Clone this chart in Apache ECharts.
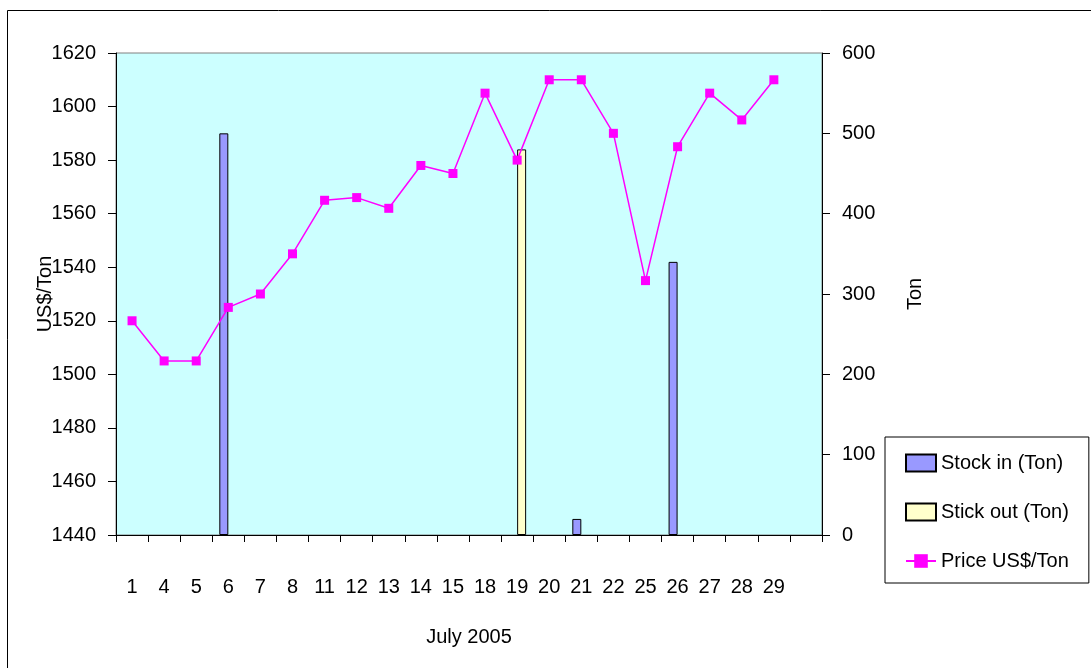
<!DOCTYPE html>
<html>
<head>
<meta charset="utf-8">
<script src="https://cdn.jsdelivr.net/npm/echarts@6/dist/echarts.min.js"></script>
<style>
  html, body { margin: 0; padding: 0; background: #fff; }
  #chart { width: 1091px; height: 668px; }
</style>
</head>
<body>
<div id="chart"></div>
<script>
const categories = ['1','4','5','6','7','8','11','12','13','14','15','18','19','20','21','22','25','26','27','28','29'];
const price = [1520,1505,1505,1525,1530,1545,1565,1566,1562,1578,1575,1605,1580,1610,1610,1590,1535,1585,1605,1595,1610];
const stockIn = [null,null,null,500,null,null,null,null,null,null,null,null,null,null,20,null,null,340,null,null,null];
const stockOut = [null,null,null,null,null,null,null,null,null,null,null,null,480,null,null,null,null,null,null,null,null];
const leftTicks = { min: 1440, max: 1620, interval: 20 };
const rightTicks = { min: 0, max: 600, interval: 100 };

const FONT = "'Liberation Sans', Arial, sans-serif";
const axisCats = categories.concat(['']);

const chart = echarts.init(document.getElementById('chart'), null, { renderer: 'canvas' });
chart.setOption({
  animation: false,
  backgroundColor: '#ffffff',
  textStyle: { fontFamily: FONT, color: '#000' },
  grid: {
    left: 116, right: 269, top: 53, bottom: 133,
    show: true, backgroundColor: '#CCFFFF', borderColor: '#808080', borderWidth: 1
  },
  graphic: [{
    type: 'rect', silent: true, z: -1,
    shape: { x: 7.5, y: 10.5, width: 1100, height: 700 },
    style: { fill: 'none', stroke: '#000', lineWidth: 1 }
  }],
  legend: {
    orient: 'vertical',
    left: 885, top: 437,
    padding: [16, 20, 12, 20],
    borderColor: '#000', borderWidth: 1,
    itemWidth: 30, itemHeight: 17, itemGap: 29,
    textStyle: { fontFamily: FONT, fontSize: 20, color: '#000', lineHeight: 20 },
    data: [
      { name: 'Stock in (Ton)', icon: 'rect' },
      { name: 'Stick out (Ton)', icon: 'rect' },
      { name: 'Price US$/Ton' }
    ]
  },
  xAxis: {
    type: 'category',
    data: axisCats,
    boundaryGap: true,
    name: 'July 2005',
    nameLocation: 'middle',
    nameGap: 92,
    nameMoveOverlap: false,
    nameTextStyle: { fontFamily: FONT, fontSize: 20, color: '#000' },
    axisLine: { lineStyle: { color: '#000', width: 1 } },
    axisTick: { show: true, interval: 0, length: 7, lineStyle: { color: '#000' } },
    axisLabel: { interval: 0, margin: 42, fontFamily: FONT, fontSize: 20, color: '#000' },
    splitLine: { show: false }
  },
  yAxis: [{
    type: 'value',
    position: 'left',
    min: leftTicks.min, max: leftTicks.max, interval: leftTicks.interval,
    name: 'US$/Ton',
    nameLocation: 'middle',
    nameGap: 61,
    nameMoveOverlap: false,
    nameTextStyle: { fontFamily: FONT, fontSize: 20, color: '#000' },
    axisLine: { show: true, lineStyle: { color: '#000', width: 1 } },
    axisTick: { show: true, length: 8, lineStyle: { color: '#000' } },
    axisLabel: { margin: 20, fontFamily: FONT, fontSize: 20, color: '#000', formatter: function (v) { return String(v); } },
    splitLine: { show: false }
  }, {
    type: 'value',
    position: 'right',
    min: rightTicks.min, max: rightTicks.max, interval: rightTicks.interval,
    name: 'Ton',
    nameLocation: 'middle',
    nameGap: 83,
    nameMoveOverlap: false,
    nameTextStyle: { fontFamily: FONT, fontSize: 20, color: '#000' },
    axisLine: { show: true, lineStyle: { color: '#000', width: 1 } },
    axisTick: { show: true, length: 8, lineStyle: { color: '#000' } },
    axisLabel: { margin: 20, fontFamily: FONT, fontSize: 20, color: '#000', formatter: function (v) { return String(v); } },
    splitLine: { show: false }
  }],
  series: [{
    name: 'Stock in (Ton)',
    type: 'bar',
    yAxisIndex: 1,
    data: stockIn,
    barWidth: 9,
    barGap: '0%',
    itemStyle: { color: '#9999FF', borderColor: '#000', borderWidth: 1 }
  }, {
    name: 'Stick out (Ton)',
    type: 'bar',
    yAxisIndex: 1,
    data: stockOut,
    barWidth: 9,
    barGap: '0%',
    itemStyle: { color: '#FFFFCC', borderColor: '#000', borderWidth: 1 }
  }, {
    name: 'Price US$/Ton',
    type: 'line',
    yAxisIndex: 0,
    data: price,
    symbol: 'rect',
    symbolSize: 9,
    z: 5,
    lineStyle: { color: '#FF00FF', width: 1.5 },
    itemStyle: { color: '#FF00FF' }
  }]
});
</script>
</body>
</html>
